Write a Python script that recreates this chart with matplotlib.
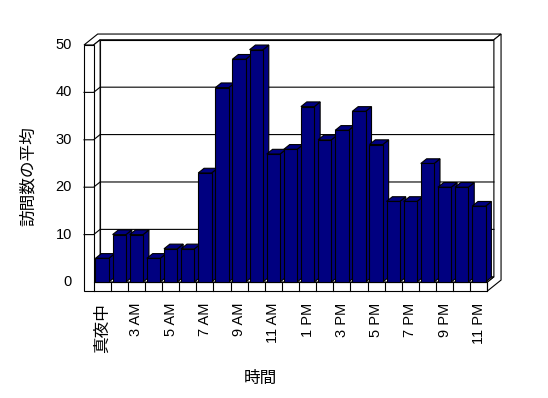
import matplotlib.pyplot as plt
from matplotlib.patches import Polygon

# average visits per hour (1 AM has no data in the source chart)
hours = ['真夜中', '2 AM', '3 AM', '4 AM', '5 AM', '6 AM', '7 AM', '8 AM', '9 AM',
         '10 AM', '11 AM', '12 PM', '1 PM', '2 PM', '3 PM', '4 PM', '5 PM',
         '6 PM', '7 PM', '8 PM', '9 PM', '10 PM', '11 PM']
visits = [5, 10, 10, 5, 7, 7, 23, 41, 47, 49, 27, 28, 37, 30, 32, 36, 29,
          17, 17, 25, 20, 20, 16]
yticks = [0, 10, 20, 30, 40, 50]

BAR = '#000080'
DX, DY = 0.38, 1.1      # oblique offset for one unit of depth
WALL_T = 1.1            # back wall thickness (depth units)
SIDE_T = 0.56           # left wall thickness (category units)
FLOOR_T = 1.9           # floor thickness (value units)
BAR_Z = 0.9
LW = 0.8


def proj(x, v, z):
    return (x + z * DX, v + z * DY)


def face(ax, pts, fc, zo):
    ax.add_patch(Polygon([proj(*p) for p in pts], closed=True, facecolor=fc,
                         edgecolor='black', lw=LW, zorder=zo, joinstyle='miter'))


def line(ax, pts, zo):
    xy = [proj(*p) for p in pts]
    ax.plot([p[0] for p in xy], [p[1] for p in xy], color='black', lw=LW, zorder=zo)


fig = plt.figure(figsize=(5.48, 3.98), dpi=100)
ax = fig.add_axes([0, 0, 1, 1])
ax.set_xlim(-5.967, 26.04)
ax.set_ylim(-24.47, 59.49)
ax.axis('off')

n = len(visits)
x0, x1 = -0.5, n - 0.5
xL = x0 - SIDE_T
top = yticks[-1]
fb = -FLOOR_T

# walls and floor
face(ax, [(x0, 0, 1), (x1, 0, 1), (x1, top, 1), (x0, top, 1)], 'white', 1)
face(ax, [(xL, top, 0), (x0, top, 0), (x0, top, 1), (x1, top, 1),
          (x1, top, 1 + WALL_T), (xL, top, 1 + WALL_T)], 'white', 1)
face(ax, [(x1, fb, 0), (x1, 0, 0), (x1, 0, 1), (x1, top, 1),
          (x1, top, 1 + WALL_T), (x1, fb, 1 + WALL_T)], 'white', 1)
face(ax, [(x0, 0, 0), (x0, 0, 1), (x0, top, 1), (x0, top, 0)], 'white', 1)
face(ax, [(x0, 0, 0), (x1, 0, 0), (x1, 0, 1), (x0, 0, 1)], 'white', 1)
face(ax, [(xL, fb, 0), (x1, fb, 0), (x1, 0, 0), (x0, 0, 0),
          (x0, top, 0), (xL, top, 0)], 'white', 1)

# gridlines across left wall and back wall
for v in yticks[1:-1]:
    line(ax, [(xL, v, 0), (x0, v, 0), (x0, v, 1), (x1, v, 1)], 2)

# category ticks on floor front
for k in range(n + 1):
    line(ax, [(k - 0.5, fb, 0), (k - 0.5, 0, 0)], 2)

# bars
for i, val in enumerate(visits):
    xa, xb = i - 0.39, i + 0.39
    zo = 3 + i * 0.01
    face(ax, [(xb, 0, 0), (xb, 0, BAR_Z), (xb, val, BAR_Z), (xb, val, 0)], BAR, zo)
    face(ax, [(xa, val, 0), (xb, val, 0), (xb, val, BAR_Z), (xa, val, BAR_Z)], BAR, zo)
    face(ax, [(xa, 0, 0), (xb, 0, 0), (xb, val, 0), (xa, val, 0)], BAR, zo)

fam = ['Liberation Sans', 'Noto Sans CJK JP', 'DejaVu Sans']
for v in yticks:
    ax.text(xL - 0.7, v, str(v), ha='right', va='center', fontsize=10.5, family=fam)

for i in range(0, n, 2):
    size = 12 if i == 0 else 10.5
    ax.text(i, -4.4, hours[i], rotation=90, ha='center', va='top',
            fontsize=size, family=fam)

ax.text(-4.33, 22.4, '訪問数の平均', rotation=90, ha='center', va='center',
        fontsize=12, family=['Noto Sans CJK JP', 'DejaVu Sans'])
ax.text(9.22, -20.25, '時間', ha='center', va='center',
        fontsize=12, family=['Noto Sans CJK JP', 'DejaVu Sans'])

fig.savefig('out.png', dpi=100)
